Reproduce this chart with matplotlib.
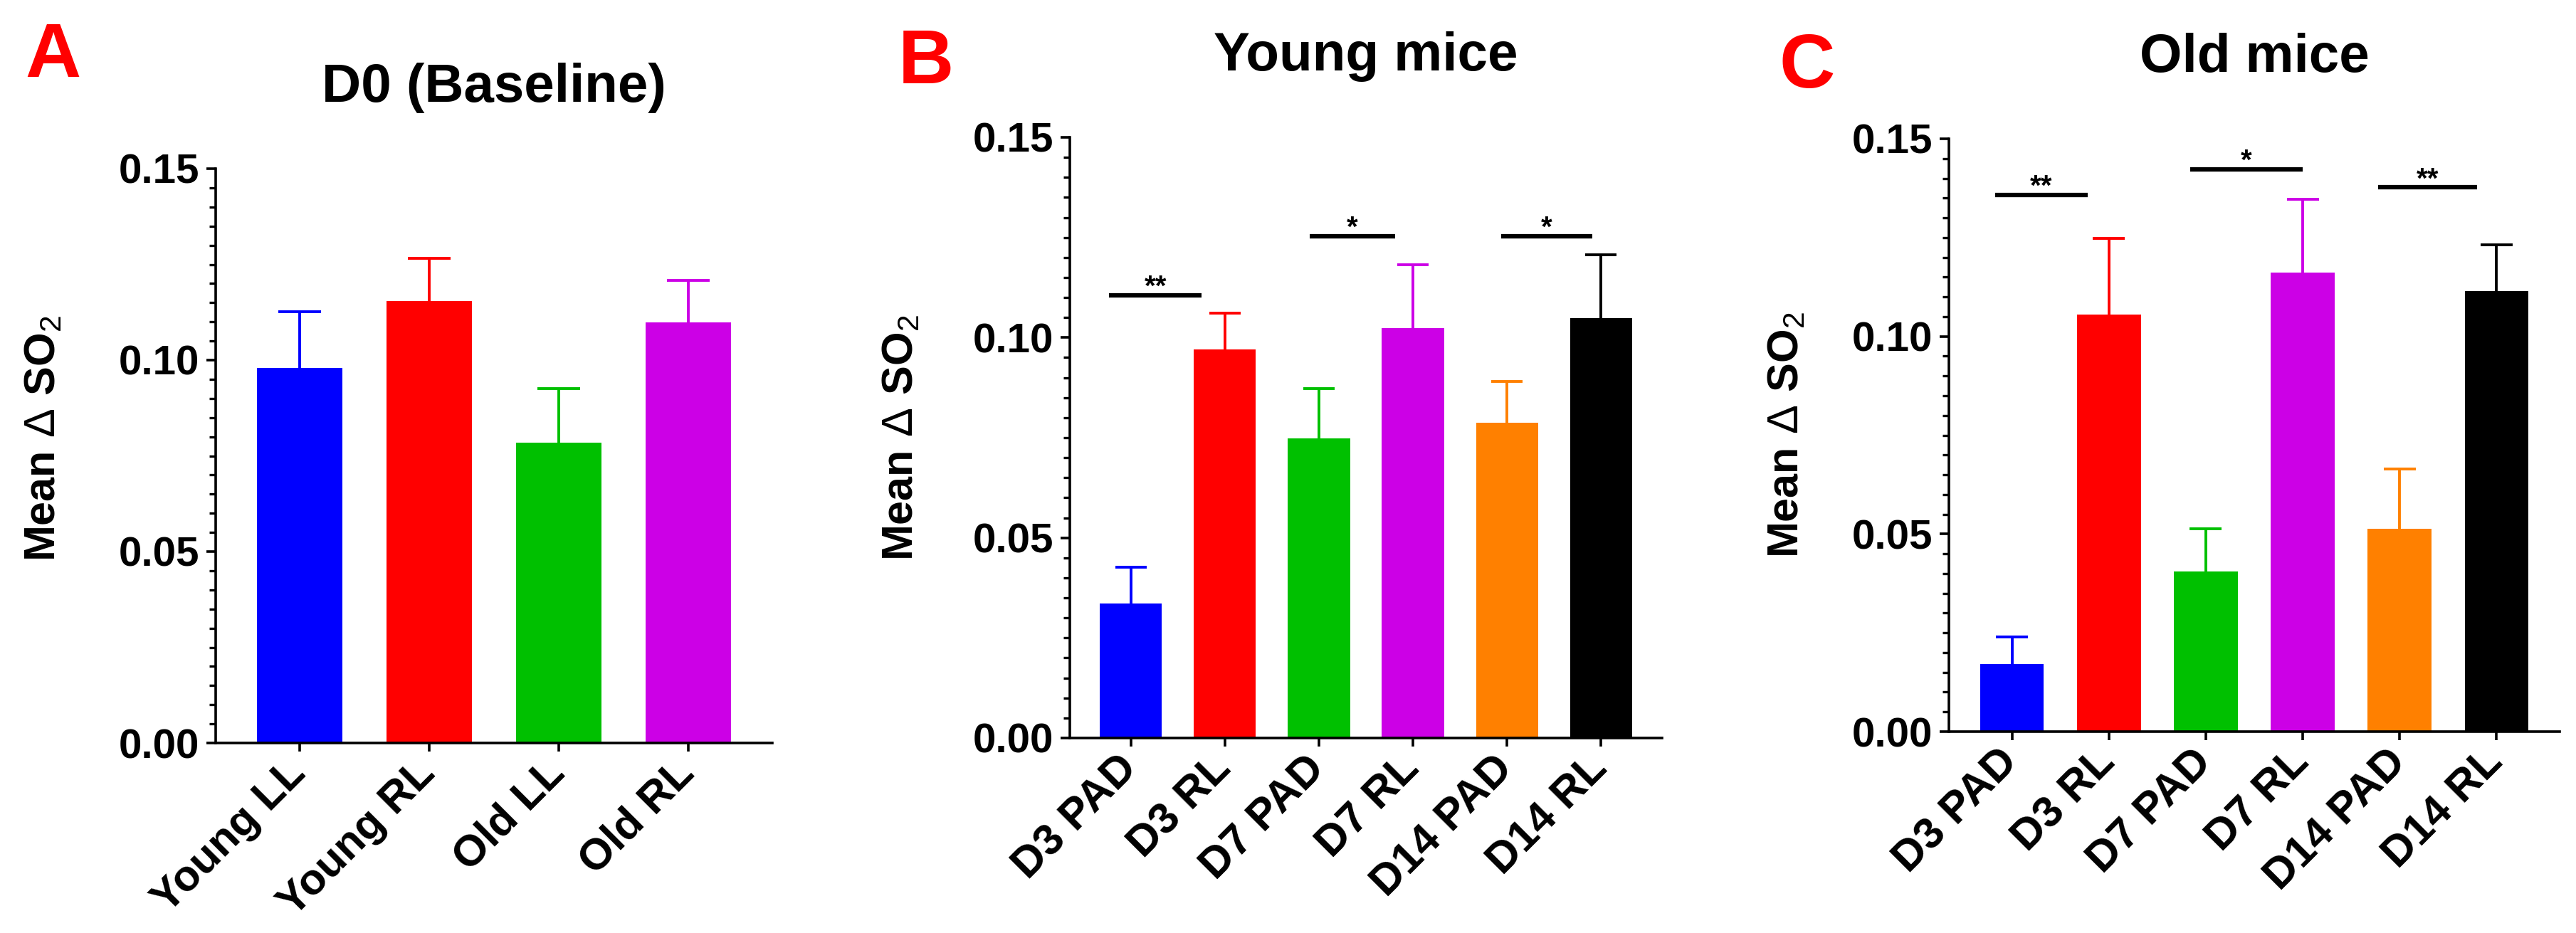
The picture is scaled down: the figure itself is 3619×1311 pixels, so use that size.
import matplotlib
matplotlib.use("Agg")
import matplotlib.pyplot as plt
from matplotlib.ticker import MultipleLocator, FormatStrFormatter

plt.rcParams["font.family"] = ["Liberation Sans", "DejaVu Sans"]
plt.rcParams["font.weight"] = "bold"
plt.rcParams["mathtext.fontset"] = "custom"
plt.rcParams["mathtext.rm"] = "Liberation Sans:weight=normal"
plt.rcParams["mathtext.bf"] = "Liberation Sans:bold"
plt.rcParams["mathtext.it"] = "Liberation Sans:italic"

# panel A: D0 baseline
a_labels = ["Young LL", "Young RL", "Old LL", "Old RL"]
a_mean = [0.0980, 0.1155, 0.0785, 0.1099]
a_sem = [0.0147, 0.0111, 0.0141, 0.0109]
a_colors = ["#0000FF", "#FF0000", "#00C000", "#CC00E6"]

# panels B and C share the groups
day_labels = ["D3 PAD", "D3 RL", "D7 PAD", "D7 RL", "D14 PAD", "D14 RL"]
day_colors = ["#0000FF", "#FF0000", "#00C000", "#CC00E6", "#FF8000", "#000000"]

# panel B: young mice
b_mean = [0.0336, 0.0971, 0.0749, 0.1023, 0.0788, 0.1049]
b_sem = [0.0090, 0.0090, 0.0123, 0.0158, 0.0102, 0.0157]
b_sig = ["**", "*", "*"]
b_sig_y = [0.1106, 0.1253, 0.1253]
b_sig_x = [(-0.23, 0.75), (1.90, 2.81), (3.94, 4.91)]

# panel C: old mice
c_mean = [0.0171, 0.1056, 0.0405, 0.1162, 0.0514, 0.1114]
c_sem = [0.0068, 0.0192, 0.0109, 0.0185, 0.0150, 0.0118]
c_sig = ["**", "*", "**"]
c_sig_y = [0.1358, 0.1423, 0.1377]
c_sig_x = [(-0.17, 0.78), (1.84, 3.00), (3.78, 4.80)]

ylabel = r"$\mathbf{Mean}\ \Delta\ \mathbf{SO}_{2}$"

W, H = 3619, 1311
fig = plt.figure(figsize=(W / 100, H / 100), dpi=100)


def px_rect(left, right, top, bottom):
    return [left / W, 1 - bottom / H, (right - left) / W, (bottom - top) / H]


def draw_panel(ax, labels, means, sems, colors, title, label_x, label_y):
    x = list(range(len(labels)))
    ax.bar(x, means, width=0.66, color=colors, edgecolor="none", zorder=2)
    for xi, m, s, c in zip(x, means, sems, colors):
        ax.vlines(xi, m, m + s, color=c, lw=2.8, zorder=3)
        ax.hlines(m + s, xi - 0.165, xi + 0.165, color=c, lw=2.8, zorder=3)

    ax.set_xlim(-0.65, len(labels) - 1 + 0.65)
    ax.set_ylim(0, 0.15)
    ax.yaxis.set_major_locator(MultipleLocator(0.05))
    ax.yaxis.set_minor_locator(MultipleLocator(0.005))
    ax.yaxis.set_major_formatter(FormatStrFormatter("%.2f"))

    ax.set_xticks(x)
    ax.set_xticklabels(labels, rotation=45, ha="right", va="center",
                       rotation_mode="anchor", fontsize=44, fontweight="bold")
    for t in ax.get_yticklabels():
        t.set_fontsize(42)
        t.set_fontweight("bold")

    for side in ["top", "right"]:
        ax.spines[side].set_visible(False)
    for side in ["left", "bottom"]:
        ax.spines[side].set_linewidth(2.6)

    ax.tick_params(axis="y", which="major", length=9.5, width=2.6, pad=7)
    ax.tick_params(axis="y", which="minor", length=6.5, width=2.4)
    ax.tick_params(axis="x", length=8.6, width=2.6, pad=16)

    ax.set_title(title, fontsize=55, fontweight="bold", pad=68)
    ax.set_ylabel(ylabel, fontsize=44)
    ax.yaxis.set_label_coords(label_x, label_y)


def draw_sig(ax, spans, heights, marks):
    for (x0, x1), y, s in zip(spans, heights, marks):
        ax.plot([x0, x1], [y, y], color="black", lw=4.5,
                solid_capstyle="butt", zorder=4)
        ax.annotate(s, xy=((x0 + x1) / 2, y), xytext=(0, 0),
                    textcoords="offset points", ha="center", va="baseline",
                    fontsize=29, fontweight="bold")


ax_a = fig.add_axes(px_rect(303, 1085, 237, 1044))
ax_b = fig.add_axes(px_rect(1503, 2335, 193, 1037))
ax_c = fig.add_axes(px_rect(2738, 3596, 195, 1028))

draw_panel(ax_a, a_labels, a_mean, a_sem, a_colors, "D0 (Baseline)", -0.272, 0.53)
draw_panel(ax_b, day_labels, b_mean, b_sem, day_colors, "Young mice", -0.25, 0.5)
draw_panel(ax_c, day_labels, c_mean, c_sem, day_colors, "Old mice", -0.231, 0.5)

draw_sig(ax_b, b_sig_x, b_sig_y, b_sig)
draw_sig(ax_c, c_sig_x, c_sig_y, c_sig)

# panel letters
fig.text(35 / W, 1 - 108 / H, "A", color="red", fontsize=78, fontweight="bold")
fig.text(1262 / W, 1 - 117 / H, "B", color="red", fontsize=78, fontweight="bold")
fig.text(2499 / W, 1 - 123 / H, "C", color="red", fontsize=78, fontweight="bold")

fig.savefig("out.png", dpi=100, facecolor="white")
